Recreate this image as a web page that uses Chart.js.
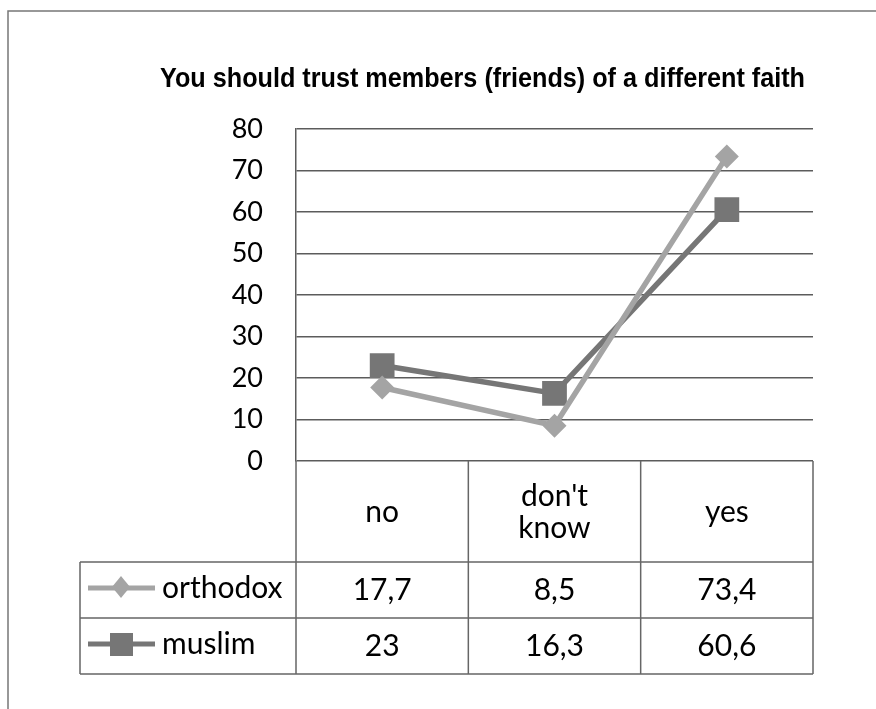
<!DOCTYPE html>
<html>
<head>
<meta charset="utf-8">
<script src="https://cdn.jsdelivr.net/npm/chart.js@4.4.1/dist/chart.umd.min.js"></script>
<style>
  html, body { margin: 0; padding: 0; background: #fff; }
  #wrap { width: 876px; height: 709px; }
  canvas { display: block; }
</style>
</head>
<body>
<div id="wrap"><canvas id="chart" width="876" height="709"></canvas></div>
<script>
const chartTitle = 'You should trust members (friends) of a different faith';
const categories = ['no', "don't know", 'yes'];
const headerLines = [['no'], ["don't", 'know'], ['yes']];
const orthodox = [17.7, 8.5, 73.4];
const muslim = [23, 16.3, 60.6];
const yTicks = [0, 10, 20, 30, 40, 50, 60, 70, 80];

const bodyFont = 'Lato, "Open Sans", sans-serif';
const orthodoxColor = '#a4a4a4';
const muslimColor = '#767676';

// comma decimal, as in the data table
const fmt = v => String(v).replace('.', ',');

// frame around the whole chart object, plus a narrow-style title
const framePlugin = {
    id: 'frame',
    afterDraw(chart) {
        const ctx = chart.ctx;
        ctx.save();
        ctx.strokeStyle = '#777';
        ctx.lineWidth = 1.5;
        ctx.beginPath();
        ctx.moveTo(8, 709);
        ctx.lineTo(8, 11);
        ctx.lineTo(876, 11);
        ctx.stroke();

        // no narrow face installed, so squeeze a regular one horizontally
        ctx.font = 'bold 28px "Liberation Sans", Arial, sans-serif';
        ctx.fillStyle = '#000';
        ctx.textBaseline = 'alphabetic';
        ctx.textAlign = 'left';
        const w = ctx.measureText(chartTitle).width;
        const sx = 645 / w;
        ctx.translate(160, 87);
        ctx.scale(sx, 1);
        ctx.fillText(chartTitle, 0, 0);
        ctx.restore();
    },
};

// data table below the plot, with legend keys in the first column
const tablePlugin = {
    id: 'dataTable',
    afterDraw(chart) {
        const { ctx, chartArea: a } = chart;
        const colW = (a.right - a.left) / categories.length;
        const headBottom = a.bottom + 101;
        const rowH = 56;
        const tableLeft = 80;
        const tableBottom = headBottom + rowH * 2;

        ctx.save();
        ctx.strokeStyle = '#666';
        ctx.lineWidth = 1.5;
        ctx.beginPath();
        // column dividers
        for (let i = 0; i <= categories.length; i++) {
            const x = a.left + colW * i;
            ctx.moveTo(x, a.bottom);
            ctx.lineTo(x, tableBottom);
        }
        ctx.moveTo(tableLeft, headBottom);
        ctx.lineTo(tableLeft, tableBottom);
        // row lines
        for (let r = 0; r <= 2; r++) {
            const y = headBottom + rowH * r;
            ctx.moveTo(tableLeft, y);
            ctx.lineTo(a.right, y);
        }
        ctx.stroke();

        ctx.fillStyle = '#000';
        ctx.font = '30px ' + bodyFont;
        ctx.textAlign = 'center';
        ctx.textBaseline = 'middle';

        // category headers
        headerLines.forEach((lines, i) => {
            const cx = a.left + colW * (i + 0.5);
            const cy = (a.bottom + headBottom) / 2 + 1;
            const lh = 32;
            lines.forEach((t, j) => {
                ctx.fillText(t, cx, cy + (j - (lines.length - 1) / 2) * lh);
            });
        });

        // values
        [orthodox, muslim].forEach((series, r) => {
            const cy = headBottom + rowH * (r + 0.5);
            series.forEach((v, i) => {
                ctx.fillText(fmt(v), a.left + colW * (i + 0.5), cy);
            });
        });

        // legend keys
        const keys = [
            { label: 'orthodox', color: orthodoxColor, style: 'diamond' },
            { label: 'muslim', color: muslimColor, style: 'square' },
        ];
        keys.forEach((k, r) => {
            const cy = headBottom + rowH * (r + 0.5);
            ctx.strokeStyle = k.color;
            ctx.lineWidth = 5;
            ctx.beginPath();
            ctx.moveTo(88, cy - 2);
            ctx.lineTo(155, cy - 2);
            ctx.stroke();
            ctx.fillStyle = k.color;
            ctx.beginPath();
            if (k.style === 'diamond') {
                ctx.moveTo(121, cy - 14);
                ctx.lineTo(130, cy - 3);
                ctx.lineTo(121, cy + 8);
                ctx.lineTo(112, cy - 3);
                ctx.closePath();
            } else {
                ctx.rect(110, cy - 13, 23, 23);
            }
            ctx.fill();
            ctx.fillStyle = '#000';
            ctx.textAlign = 'left';
            ctx.fillText(k.label, 162, cy - 2);
        });
        ctx.restore();
    },
};

const ctx = document.getElementById('chart').getContext('2d');
const chart = new Chart(ctx, {
    type: 'line',
    data: {
        labels: categories,
        datasets: [
            {
                label: 'orthodox',
                data: orthodox,
                borderColor: orthodoxColor,
                backgroundColor: orthodoxColor,
                borderWidth: 5.5,
                pointStyle: 'rectRot',
                pointRadius: 12,
                pointBorderWidth: 0,
                tension: 0,
            },
            {
                label: 'muslim',
                data: muslim,
                borderColor: muslimColor,
                backgroundColor: muslimColor,
                borderWidth: 5.5,
                pointStyle: 'rect',
                pointRadius: 17.5,
                pointBorderWidth: 0,
                tension: 0,
            },
        ],
    },
    options: {
        responsive: false,
        animation: false,
        layout: {
            padding: { left: 0, right: 63, top: 129, bottom: 248 },
        },
        scales: {
            x: {
                display: false,
                offset: true,
            },
            y: {
                min: 0,
                max: 80,
                afterFit: scale => { scale.width = 296; },
                afterBuildTicks: scale => {
                    scale.ticks = yTicks.map(v => ({ value: v }));
                },
                grid: {
                    color: '#5c5c5c',
                    lineWidth: 1.5,
                    drawTicks: false,
                },
                border: { color: '#5c5c5c', width: 1.5 },
                ticks: {
                    padding: 33,
                    color: '#000',
                    font: { family: bodyFont, size: 27 },
                },
            },
        },
        plugins: {
            legend: { display: false },
            tooltip: { enabled: false },
            title: { display: false },
        },
    },
    plugins: [framePlugin, tablePlugin],
});
</script>
</body>
</html>
